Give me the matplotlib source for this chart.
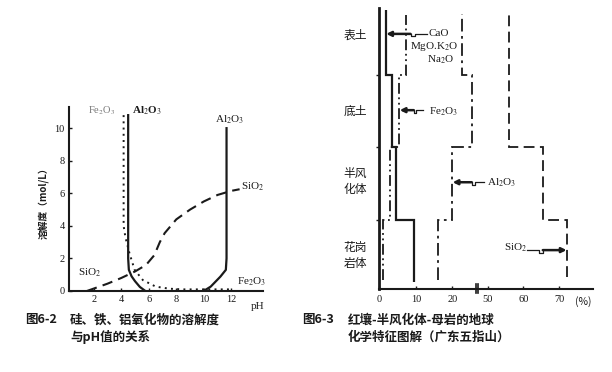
import matplotlib.pyplot as plt

plt.rcParams['font.family'] = ['Liberation Serif', 'Noto Sans CJK SC']
plt.rcParams['mathtext.fontset'] = 'stix'

INK = '#1a1a1a'
CJK = ['Noto Sans CJK SC', 'DejaVu Sans']

# ---- 图6-2 : solubility vs pH ----
al_acid_ph = [4.5, 4.5, 4.55, 4.75, 5.0, 5.35, 5.75]
al_acid_sol = [10.8, 2.0, 1.3, 0.9, 0.6, 0.25, 0.0]
al_base_ph = [11.65, 11.65, 11.6, 11.2, 10.5, 10.1, 9.9]
al_base_sol = [10.0, 2.0, 1.3, 0.88, 0.27, 0.06, 0.0]
fe_ph = [4.17, 4.17, 4.3, 4.6, 4.97, 5.57, 6.5, 7.5, 8.5, 12.1]
fe_sol = [10.8, 4.0, 3.3, 2.3, 1.3, 0.67, 0.27, 0.14, 0.1, 0.1]
si_ph = [1.5, 2.0, 3.0, 4.0, 5.0, 5.8, 6.4, 6.8, 7.15, 8.0, 9.0, 10.0, 11.0, 12.0, 12.6]
si_sol = [0.0, 0.15, 0.45, 0.8, 1.2, 1.6, 2.2, 3.0, 3.55, 4.4, 5.0, 5.5, 5.9, 6.15, 6.25]
ph_ticks = [2, 4, 6, 8, 10, 12]
sol_ticks = [0, 2, 4, 6, 8, 10]

# ---- 图6-3 : profile composition, bands listed bottom -> top ----
layers = ['花岗\n岩体', '半风\n化体', '底土', '表土']
layer_mid = [0.52, 1.59, 2.56, 3.65]
layer_bounds = [0.99, 2.04, 3.06]
base_pct = [9.5, 4.7, 3.6, 1.8]      # CaO, MgO, K2O, Na2O
fe_pct = [1.1, 2.9, 5.5, 7.3]        # Fe2O3
al_pct = [16.2, 20.0, 25.3, 22.6]    # Al2O3
si_pct = [72.2, 65.4, 56.0, 56.0]    # SiO2
pct_ticks_lo = [0, 10, 20]
pct_ticks_hi = [50, 60, 70]

fig = plt.figure(figsize=(6.12, 3.72), dpi=100)

# ---------------- left chart ----------------
ax = fig.add_axes([69 / 612, 81 / 372, 194 / 612, 184 / 372])
ax.plot(fe_ph, fe_sol, color=INK, lw=1.4, linestyle=(0, (1, 2.2)))
ax.plot(al_acid_ph, al_acid_sol, color=INK, lw=1.6)
ax.plot(al_base_ph, al_base_sol, color=INK, lw=1.6)
ax.plot(si_ph, si_sol, color=INK, lw=1.5, linestyle=(0, (5, 3)))
ax.set_xlim(0.2, 14.3)
ax.set_ylim(0, 11.3)
ax.set_xticks(ph_ticks)
ax.set_yticks(sol_ticks)
ax.tick_params(direction='in', length=2.5, width=1, labelsize=7.5, colors=INK, pad=3)
for s in ['top', 'right']:
    ax.spines[s].set_visible(False)
for s in ['left', 'bottom']:
    ax.spines[s].set_linewidth(1.5)
    ax.spines[s].set_color(INK)

ax.text(2.6, 11.1, 'Fe$_2$O$_3$', fontsize=7.5, color='#777777', ha='center', va='center')
ax.text(4.8, 11.05, 'Al$_2$O$_3$', fontsize=8, fontweight='bold', color=INK, ha='left', va='center')
ax.text(11.9, 10.5, 'Al$_2$O$_3$', fontsize=8, color=INK, ha='center', va='center')
ax.text(12.7, 6.4, 'SiO$_2$', fontsize=8, color=INK, ha='left', va='center')
ax.text(1.7, 1.1, 'SiO$_2$', fontsize=8, color=INK, ha='center', va='center')
ax.text(12.4, 0.55, 'Fe$_2$O$_3$', fontsize=8, color=INK, ha='left', va='center')
ax.text(13.9, -0.65, 'pH', fontsize=8, color=INK, ha='center', va='top')
ax.text(-0.13, 0.49, '溶解度（mol/L）', family=CJK, fontsize=7, fontweight='bold',
        rotation=90, ha='center', va='center', transform=ax.transAxes, color=INK)

# ---------------- right chart (broken x axis) ----------------
bot, hgt = 82.7 / 372, 281.3 / 372
axL = fig.add_axes([379.3 / 612, bot, 96.7 / 612, hgt])
axR = fig.add_axes([478 / 612, bot, 115 / 612, hgt])
axL.set_xlim(0, 26.5)
axR.set_xlim(47.3, 79.5)
for a in (axL, axR):
    a.set_ylim(0, 4.02)
    a.patch.set_alpha(0)
    a.spines['top'].set_visible(False)
    a.spines['right'].set_visible(False)
    a.spines['bottom'].set_linewidth(1.5)
    a.spines['bottom'].set_color(INK)
    a.tick_params(axis='x', direction='in', length=2.5, width=1, labelsize=7.5, colors=INK, pad=4)
axR.spines['left'].set_visible(False)
axR.set_yticks([])
axL.spines['left'].set_linewidth(2)
axL.spines['left'].set_color(INK)
axL.set_xticks(pct_ticks_lo)
axR.set_xticks(pct_ticks_hi)
axL.set_yticks(layer_mid)
axL.set_yticklabels(layers, family=CJK, fontsize=8.5, linespacing=1.3)
axL.set_yticks(layer_bounds, minor=True)
axL.tick_params(axis='y', which='major', length=0, pad=9, colors=INK)
axL.tick_params(axis='y', which='minor', direction='out', length=2.5, width=1, colors=INK)

# break marks on the x axis
axL.plot([1, 1], [-0.012, 0.02], transform=axL.transAxes, color=INK, lw=1.2, clip_on=False)
axR.plot([0, 0], [-0.012, 0.02], transform=axR.transAxes, color=INK, lw=1.2, clip_on=False)

axL.stairs(base_pct, [0.11] + layer_bounds + [3.99], orientation='horizontal',
           baseline=None, color=INK, lw=1.6)
axL.stairs(fe_pct, [0.13] + layer_bounds + [3.92], orientation='horizontal',
           baseline=None, color=INK, lw=1.3, linestyle=(0, (6, 2, 1, 2, 1, 2)))
axL.stairs(al_pct, [0.13] + layer_bounds + [3.93], orientation='horizontal',
           baseline=None, color=INK, lw=1.3, linestyle=(0, (7, 2.5, 1.5, 2.5)))
axR.stairs(si_pct, [0.18] + layer_bounds + [3.92], orientation='horizontal',
           baseline=None, color=INK, lw=1.3, linestyle=(0, (6, 3)))


def leader(a, x_from, x_to, y):
    # thin tail, small jog, then a bold arrow onto the line
    xa = x_from + (x_to - x_from) * 0.3
    xb = x_from + (x_to - x_from) * 0.4
    d = 0.035
    a.plot([x_from, xa, xa, xb, xb], [y, y, y - d, y - d, y], color=INK, lw=0.9, clip_on=False)
    a.annotate('', xy=(x_to, y), xytext=(xb, y), annotation_clip=False,
               arrowprops=dict(arrowstyle='-|>', color=INK, lw=1.8, mutation_scale=7,
                               shrinkA=0, shrinkB=0))


leader(axL, 13.0, 1.9, 3.65)
leader(axL, 12.0, 5.6, 2.56)
leader(axL, 28.8, 20.1, 1.53)
leader(axR, 61.0, 72.1, 0.56)

axL.text(13.4, 3.66, 'CaO', fontsize=8, color=INK, ha='left', va='center')
axL.text(8.3, 3.47, 'MgO.K$_2$O', fontsize=8, color=INK, ha='left', va='center')
axL.text(13.0, 3.28, 'Na$_2$O', fontsize=8, color=INK, ha='left', va='center')
axL.text(13.6, 2.54, 'Fe$_2$O$_3$', fontsize=8, color=INK, ha='left', va='center')
axL.text(29.4, 1.52, 'Al$_2$O$_3$', fontsize=8, color=INK, ha='left', va='center')
axR.text(54.6, 0.59, 'SiO$_2$', fontsize=8, color=INK, ha='left', va='center')
fig.text(583 / 612, (372 - 302) / 372, '(%)', fontsize=7.5, color=INK, ha='center', va='center',
         family=CJK)

# ---------------- captions ----------------
cap = dict(family=CJK, fontsize=9, fontweight='bold', color=INK, va='center', ha='left')
fig.text(25 / 612, 0.14, '图6-2', **cap)
fig.text(70 / 612, 0.14, '硅、铁、铝氧化物的溶解度', **cap)
fig.text(70 / 612, 0.094, '与pH值的关系', **cap)
fig.text(302 / 612, 0.14, '图6-3', **cap)
fig.text(348 / 612, 0.14, '红壤-半风化体-母岩的地球', **cap)
fig.text(348 / 612, 0.094, '化学特征图解（广东五指山）', **cap)

fig.savefig('out.png', dpi=100, facecolor='white')
